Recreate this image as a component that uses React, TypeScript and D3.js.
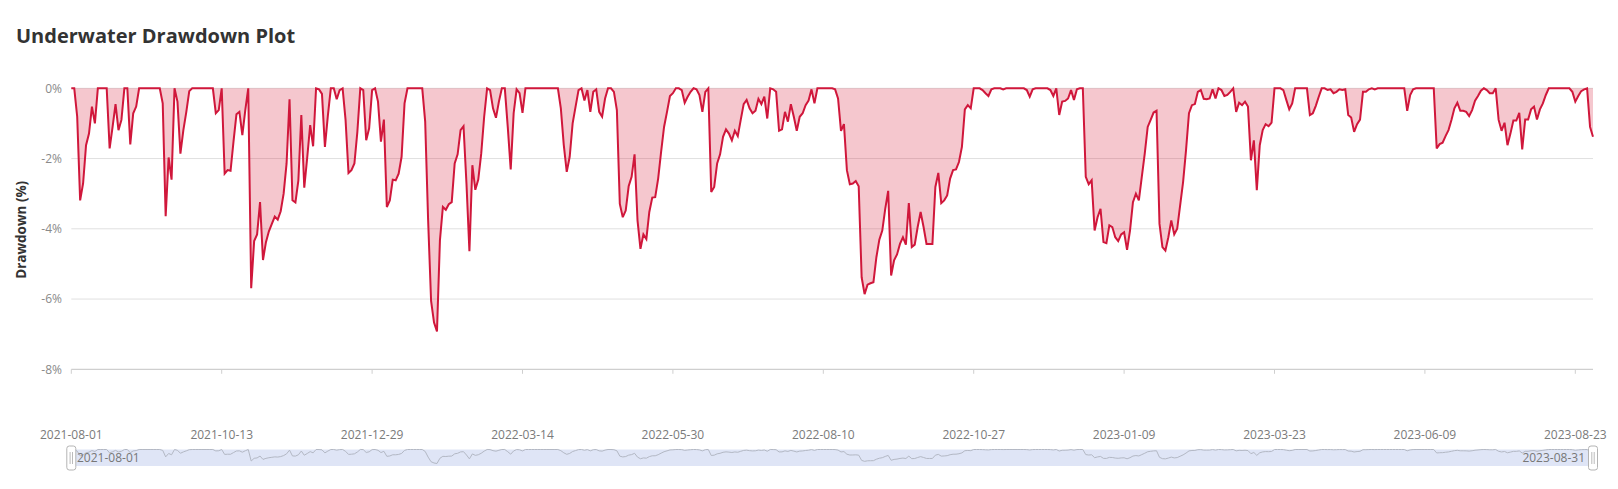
import * as d3 from "d3";
import React from "react";

// category axis: one label every 51 trading days
const tickLabels = [
    "2021-08-01", "2021-10-13", "2021-12-29", "2022-03-14", "2022-05-30", "2022-08-10",
    "2022-10-27", "2023-01-09", "2023-03-23", "2023-06-09", "2023-08-23",
];
const labelEvery = 51;
const sliderStart = "2021-08-01";
const sliderEnd = "2023-08-31";
const yTicks = [0, -2, -4, -6, -8];

// drawdown in %, one value per trading day
const drawdown = [
    0, 0, -0.81, -3.19, -2.71, -1.62, -1.29, -0.52, -1.0, 0,
    0, 0, 0, -1.71, -1.10, -0.45, -1.19, -0.90, 0, 0,
    -1.60, -0.71, -0.52, 0, 0, 0, 0, 0, 0, 0,
    0, -0.43, -3.64, -1.97, -2.60, 0, -0.38, -1.86, -1.19, -0.67,
    -0.08, 0, 0, 0, 0, 0, 0, 0, 0, -0.71,
    -0.62, 0, -2.43, -2.33, -2.35, -1.52, -0.74, -0.67, -1.33, -0.62,
    0, -5.69, -4.35, -4.16, -3.24, -4.89, -4.38, -4.07, -3.86, -3.65,
    -3.74, -3.50, -3.00, -2.14, -0.31, -3.19, -3.25, -2.62, -0.76, -2.83,
    -1.97, -1.05, -1.65, 0, -0.03, -0.16, -1.67, -0.78, 0, 0,
    -0.31, -0.05, 0, -0.90, -2.41, -2.33, -2.14, -1.24, 0, -0.05,
    -1.48, -1.14, -0.05, 0, -0.38, -1.52, -0.89, -3.38, -3.19, -2.60,
    -2.62, -2.43, -1.95, -0.43, 0, 0, 0, 0, 0, 0,
    -0.95, -3.76, -6.05, -6.67, -6.92, -4.33, -3.38, -3.46, -3.30, -3.24,
    -2.14, -1.88, -1.19, -1.08, -2.71, -4.64, -2.19, -2.89, -2.60, -1.86,
    -0.81, 0, -0.05, -0.57, -0.84, -0.38, 0, 0, -1.10, -2.31,
    -0.71, -0.03, -0.14, -0.70, 0, 0, 0, 0, 0, 0,
    0, 0, 0, 0, 0, 0, -0.57, -1.62, -2.38, -1.95,
    -1.00, -0.52, -0.05, 0, -0.35, -0.05, -0.67, -0.10, -0.03, -0.67,
    -0.81, -0.29, 0, 0, -0.10, -0.62, -3.29, -3.67, -3.48, -2.79,
    -2.52, -1.88, -3.76, -4.57, -4.16, -4.29, -3.52, -3.11, -3.10, -2.57,
    -1.81, -1.10, -0.67, -0.22, -0.14, 0, 0, -0.05, -0.41, -0.24,
    -0.10, 0, -0.03, -0.19, -0.67, -0.10, 0, -2.95, -2.81, -2.14,
    -1.88, -1.38, -1.17, -1.29, -1.48, -1.21, -1.36, -0.90, -0.45, -0.33,
    -0.57, -0.71, -0.64, -0.30, -0.45, -0.24, -0.86, 0, -0.03, -0.10,
    -1.21, -1.17, -0.67, -0.95, -0.45, -0.81, -1.21, -0.81, -0.71, -0.48,
    -0.35, -0.03, -0.43, 0, 0, 0, 0, 0, 0, -0.03,
    -0.29, -1.21, -1.02, -2.33, -2.73, -2.71, -2.64, -2.79, -5.38, -5.86,
    -5.59, -5.55, -5.52, -4.81, -4.31, -4.05, -3.43, -2.92, -5.33, -4.90,
    -4.73, -4.43, -4.24, -4.45, -3.27, -4.52, -4.45, -3.95, -3.52, -3.95,
    -4.43, -4.43, -4.43, -2.81, -2.41, -3.27, -3.19, -3.05, -2.57, -2.33,
    -2.31, -2.10, -1.67, -0.60, -0.48, -0.57, 0, 0, 0, -0.05,
    -0.14, -0.22, -0.03, 0, 0, 0, -0.03, 0, 0, 0,
    0, 0, 0, 0, -0.05, -0.24, -0.03, 0, 0, 0,
    0, 0, -0.05, -0.22, 0, -0.76, -0.38, -0.36, -0.29, -0.05,
    -0.33, -0.03, 0, 0, -2.52, -2.73, -2.62, -4.05, -3.67, -3.43,
    -4.38, -4.41, -3.90, -3.95, -4.24, -4.35, -4.16, -4.10, -4.60, -4.05,
    -3.24, -3.00, -3.19, -2.52, -1.86, -1.10, -0.90, -0.69, -0.64, -3.86,
    -4.52, -4.62, -4.24, -3.76, -4.16, -4.00, -3.33, -2.67, -1.76, -0.71,
    -0.48, -0.45, -0.10, -0.05, -0.30, -0.31, -0.29, -0.03, -0.29, 0,
    -0.05, -0.22, -0.19, -0.10, 0, -0.67, -0.41, -0.48, -0.38, -0.52,
    -2.05, -1.48, -2.90, -1.62, -1.19, -1.02, -1.08, -0.98, 0, 0,
    0, -0.05, -0.33, -0.60, -0.43, 0, 0, 0, 0, 0,
    -0.76, -0.71, -0.50, -0.24, 0, 0, -0.05, -0.03, -0.14, -0.10,
    -0.03, -0.05, -0.03, -0.76, -0.83, -1.24, -1.02, -0.89, -0.10, -0.10,
    -0.03, 0, -0.03, 0, 0, 0, 0, 0, 0, 0,
    0, 0, 0, -0.64, -0.19, -0.03, 0, 0, 0, 0,
    0, 0, 0, -1.71, -1.59, -1.55, -1.36, -1.19, -0.90, -0.57,
    -0.41, -0.64, -0.64, -0.67, -0.79, -0.62, -0.35, -0.22, -0.07, 0,
    -0.05, -0.14, -0.14, 0, -0.90, -1.21, -0.98, -1.62, -1.29, -0.92,
    -0.92, -0.70, -1.74, -0.89, -0.89, -0.60, -0.52, -0.89, -0.60, -0.43,
    -0.19, 0, 0, 0, 0, 0, 0, 0, 0, -0.10,
    -0.38, -0.22, -0.08, -0.03, 0, -1.10, -1.38,
];

const width = 1618;
const height = 489;
const plotLeft = 71.3;
const plotRight = 1593;
const plotTop = 88.3;
const plotBottom = 369.3;
const sliderTop = 449.5;
const sliderBottom = 466;

const font = "'Open Sans', 'Noto Sans', sans-serif";

export default function App() {
    const x = d3.scaleLinear().domain([0, drawdown.length - 1]).range([plotLeft, plotRight]);
    const y = d3.scaleLinear().domain([-8, 0]).range([plotBottom, plotTop]);

    const area = d3.area<number>()
        .x((_, i) => x(i))
        .y0(y(0))
        .y1(d => y(d));
    const line = d3.line<number>()
        .x((_, i) => x(i))
        .y(d => y(d));

    // data shadow in the zoom slider
    const minVal = d3.min(drawdown) || -1;
    const sy = d3.scaleLinear().domain([minVal, 0]).range([sliderBottom - 2.5, sliderTop]);
    const shadow = d3.line<number>()
        .x((_, i) => x(i))
        .y(d => sy(d));

    const handle = (cx: number) => (
        <g>
            <rect x={cx - 4.5} y={446} width={9} height={24} rx={2.5}
                fill="#fff" stroke="#b4b4b4" strokeWidth={1} />
            <line x1={cx - 1.2} x2={cx - 1.2} y1={452} y2={464} stroke="#aaa" strokeWidth={0.8} />
            <line x1={cx + 1.2} x2={cx + 1.2} y1={452} y2={464} stroke="#aaa" strokeWidth={0.8} />
        </g>
    );

    return (
        <svg width={width} height={height} style={{ position: "absolute", left: 0, top: 0, background: "#fff" }}
            fontFamily={font}>
            <text x={16} y={43} fontSize={20} fontWeight={700} fill="#333">Underwater Drawdown Plot</text>

            {/* grid + y labels */}
            {yTicks.map(t => (
                <g key={t}>
                    <line x1={plotLeft} x2={plotRight} y1={y(t)} y2={y(t)}
                        stroke={t === -8 ? "#cfcfcf" : "#e0e0e0"} strokeWidth={t === -8 ? 1.3 : 1} />
                    <text x={62} y={y(t)} dy="0.35em" textAnchor="end" fontSize={12} fill="#8a8a8a">{t}%</text>
                </g>
            ))}

            <text transform={`translate(26,${(plotTop + plotBottom) / 2 + 1}) rotate(-90)`}
                textAnchor="middle" fontSize={13.5} fontWeight={700} fill="#333">Drawdown (%)</text>

            <path d={area(drawdown) || ""} fill="rgba(214,30,60,0.25)" />
            <path d={line(drawdown) || ""} fill="none" stroke="#d0173b" strokeWidth={2}
                strokeLinejoin="miter" strokeMiterlimit={3} />

            {/* x axis ticks + labels */}
            {tickLabels.map((label, k) => {
                const tx = x(k * labelEvery);
                return (
                    <g key={label}>
                        <line x1={tx} x2={tx} y1={plotBottom} y2={plotBottom + 4.5} stroke="#cfcfcf" />
                        <text x={tx} y={435} dy="0.35em" textAnchor="middle" fontSize={12} fill="#7a7a7a">{label}</text>
                    </g>
                );
            })}

            {/* zoom slider */}
            <rect x={plotLeft} y={sliderTop} width={plotRight - plotLeft} height={sliderBottom - sliderTop}
                fill="#dfe5f6" />
            <path d={shadow(drawdown) || ""} fill="none" stroke="#b3b8c4" strokeWidth={1} />
            <text x={77} y={457.5} dy="0.35em" fontSize={12} fill="#777">{sliderStart}</text>
            <text x={1585} y={457.5} dy="0.35em" textAnchor="end" fontSize={12} fill="#777">{sliderEnd}</text>
            {handle(plotLeft)}
            {handle(plotRight)}
        </svg>
    );
}
